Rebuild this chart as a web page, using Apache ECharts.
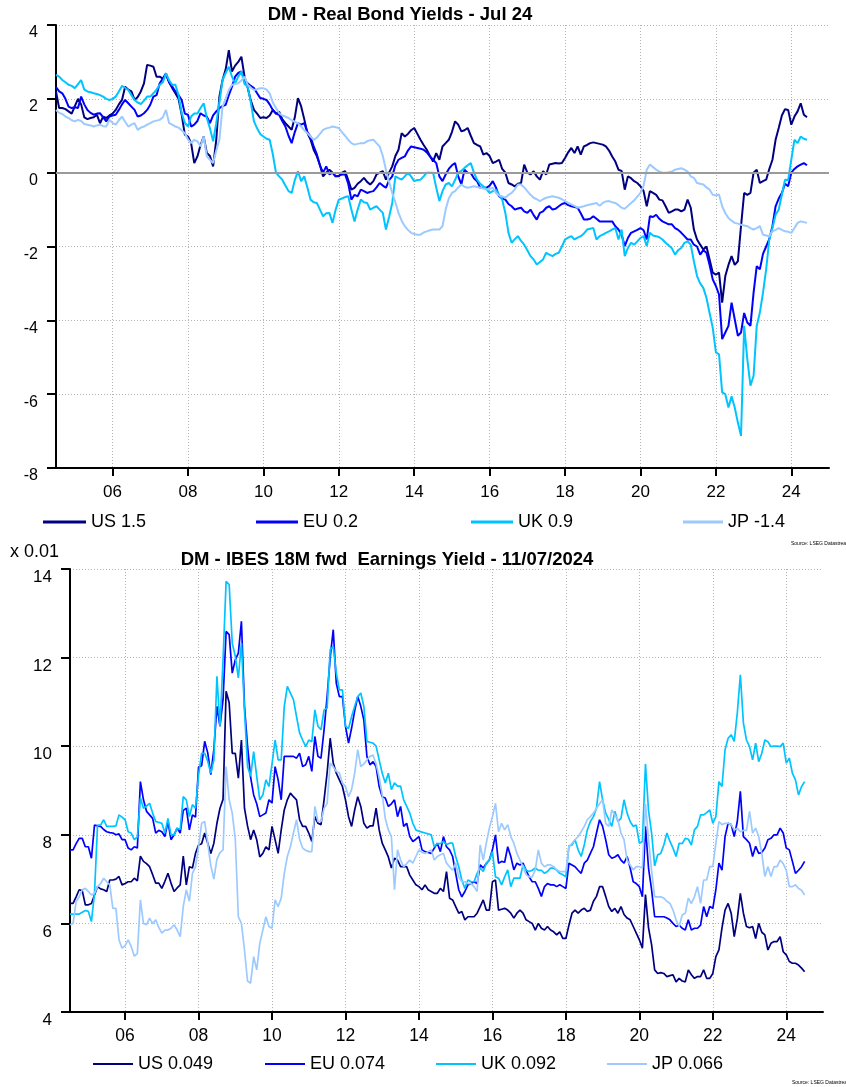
<!DOCTYPE html>
<html><head><meta charset="utf-8">
<script src="https://cdn.jsdelivr.net/npm/echarts@6/dist/echarts.min.js"></script>
<style>html,body{margin:0;padding:0;background:#fff}#c{width:846px;height:1087px}</style>
</head><body><div id="c"></div>
<script>
// ---------- categories (monthly, Jul 2004 .. Jan 2025) ----------
const startYear = 2004, startMonth = 7, nCats = 247;
const months = [];
for (let i = 0; i < nCats; i++) {
  const t = startYear * 12 + startMonth - 1 + i;
  const y = Math.floor(t / 12), m = t % 12 + 1;
  months.push(y + '-' + (m < 10 ? '0' : '') + m);
}
const tickYears = ['2006','2008','2010','2012','2014','2016','2018','2020','2022','2024'];

// ---------- top chart: Real Bond Yields (Jul 2004 .. Jun 2024) ----------
const realNames = ['US 1.5', 'EU 0.2', 'UK 0.9', 'JP -1.4'];
const usReal = [2.2,1.75,1.75,1.72,1.66,1.6,
1.8,2.0,1.85,1.5,1.45,1.48,1.5,1.57,1.34,1.52,1.48,1.55,
1.6,1.7,1.85,1.97,2.33,2.25,2.2,1.97,2.05,2.2,2.42,2.92,
2.9,2.87,2.6,2.6,2.55,2.65,2.45,2.29,2.15,2.0,1.57,1.03,
0.98,0.8,0.26,0.44,0.75,0.98,0.53,0.45,0.17,0.89,2.06,2.51,
2.8,3.32,2.74,2.9,3.0,3.14,2.6,2.3,1.95,1.7,1.6,1.48,
1.5,1.48,1.55,1.7,1.6,1.65,1.45,1.34,1.25,1.16,1.5,2.02,
1.8,1.45,1.07,0.9,0.62,0.45,0.2,-0.1,0.0,0.08,0.0,-0.1,
-0.1,0.0,0.04,-0.2,-0.46,-0.41,-0.3,-0.23,-0.14,-0.25,-0.32,-0.23,
-0.05,0.0,0.04,-0.19,0.0,0.17,0.45,0.62,1.07,0.98,1.05,1.15,
1.21,1.05,0.89,0.75,0.62,0.45,0.3,0.53,0.35,0.71,0.8,0.89,
1.1,1.39,1.3,1.12,1.15,1.21,1.0,0.8,0.75,0.71,0.49,0.53,
0.45,0.26,0.3,0.35,0.1,0.0,-0.28,-0.32,-0.37,-0.3,-0.28,0.22,
0.0,-0.05,0.04,-0.1,-0.19,0.04,-0.05,0.22,0.24,0.26,0.25,0.26,
0.4,0.55,0.67,0.53,0.71,0.49,0.71,0.75,0.8,0.82,0.8,0.78,
0.76,0.71,0.6,0.44,0.3,0.08,0.05,-0.46,-0.1,-0.15,-0.23,-0.28,
-0.37,-0.5,-0.91,-0.5,-0.55,-0.6,-0.73,-0.75,-0.91,-1.09,-1.05,-1.0,
-1.0,-1.05,-1.0,-0.73,-0.95,-1.54,-1.81,-1.95,-2.08,-2.0,-2.35,-2.71,
-2.76,-2.71,-3.52,-2.8,-2.5,-2.26,-2.5,-2.4,-1.45,-0.55,-0.6,-0.55,
0.0,0.08,-0.28,-0.23,-0.19,0.1,0.35,0.89,1.21,1.55,1.72,1.7,
1.3,1.52,1.66,1.88,1.57,1.5];
const euReal = [2.32,2.2,2.15,2.0,1.79,1.75,
1.77,1.75,2.06,1.85,1.7,1.62,1.57,1.6,1.61,1.5,1.39,1.52,
1.55,1.57,1.7,1.85,1.97,1.88,1.79,1.7,1.52,1.55,1.61,1.7,
1.84,2.06,2.1,2.42,2.55,2.69,2.45,2.33,2.2,2.1,1.97,1.6,
1.57,1.25,1.3,1.4,1.61,1.55,1.52,1.34,1.55,1.66,1.75,1.8,
1.84,2.1,2.33,2.6,2.7,2.74,2.5,2.42,2.35,2.29,2.15,2.02,
2.0,1.97,1.85,1.7,1.6,1.57,1.4,1.25,1.0,0.8,1.1,1.34,
1.3,1.34,1.1,0.98,0.71,0.5,0.2,0.0,0.17,-0.05,0.0,-0.1,
-0.08,-0.05,-0.05,-0.3,-0.73,-0.6,-0.64,-0.46,-0.5,-0.55,-0.52,-0.5,
-0.4,-0.28,-0.35,-0.41,-0.2,-0.1,0.2,0.35,0.4,0.44,0.6,0.71,
0.69,0.67,0.65,0.62,0.55,0.44,0.35,0.26,-0.1,-0.23,-0.05,0.1,
0.2,0.26,-0.1,-0.32,0.08,0.0,-0.01,-0.15,-0.23,-0.41,-0.41,-0.41,
-0.35,-0.23,-0.4,-0.64,-0.7,-0.73,-0.85,-0.91,-1.0,-0.97,-0.95,-1.05,
-1.09,-1.0,-1.15,-1.27,-1.09,-1.05,-0.95,-0.91,-1.0,-0.98,-0.91,-0.85,
-0.82,-0.88,-0.91,-0.93,-0.95,-1.1,-1.27,-1.27,-1.25,-1.18,-1.25,-1.32,
-1.32,-1.32,-1.32,-1.32,-1.45,-1.54,-1.68,-1.99,-1.77,-1.63,-1.59,-1.55,
-1.5,-1.56,-1.81,-1.18,-1.2,-1.14,-1.25,-1.32,-1.36,-1.4,-1.4,-1.5,
-1.55,-1.63,-1.72,-1.81,-1.81,-1.95,-2.0,-2.22,-2.1,-2.17,-2.5,-2.89,
-3.07,-3.3,-4.51,-4.33,-4.15,-3.52,-3.97,-4.42,-4.33,-3.8,-4.06,-4.15,
-3.25,-2.53,-2.62,-2.2,-2.0,-1.8,-1.45,-0.91,-0.7,-0.55,-0.3,-0.37,
0.0,0.1,0.17,0.22,0.26,0.2];
const ukReal = [2.65,2.6,2.51,2.45,2.38,2.35,
2.29,2.4,2.51,2.25,2.2,2.18,2.15,2.13,2.1,2.06,2.0,1.97,
2.0,2.06,2.2,2.35,2.3,2.24,2.1,1.97,1.9,1.86,1.95,2.06,
2.06,2.15,2.25,2.38,2.45,2.69,2.5,2.38,2.38,2.1,1.61,1.35,
1.25,1.52,1.6,1.6,1.75,1.88,1.48,1.2,0.85,1.34,1.9,2.51,
2.7,2.87,2.6,2.42,2.6,2.74,2.4,2.33,1.9,1.39,1.2,1.05,
0.98,0.92,0.89,0.5,0.0,-0.1,-0.19,-0.35,-0.5,-0.55,-0.2,0.04,
-0.23,-0.1,-0.4,-0.73,-0.8,-0.82,-1.0,-1.18,-1.1,-1.09,-1.36,-1.0,
-0.73,-0.7,-0.66,-0.64,-1.0,-1.32,-1.0,-0.73,-0.8,-0.82,-1.0,-0.95,
-0.91,-1.0,-1.09,-1.54,-1.2,-0.82,-0.1,-0.15,-0.19,-0.1,0.0,-0.1,
-0.23,-0.2,-0.19,-0.1,0.0,0.0,0.0,-0.4,-0.77,-0.5,-0.32,-0.28,
-0.37,-0.2,0.0,0.05,0.13,0.2,0.26,0.0,-0.19,-0.3,-0.37,-0.45,
-0.55,-0.5,-0.46,-0.6,-0.73,-1.09,-1.63,-1.9,-1.8,-1.72,-1.85,-1.95,
-2.1,-2.26,-2.35,-2.49,-2.42,-2.35,-2.17,-2.22,-2.26,-2.2,-2.17,-2.0,
-1.81,-1.76,-1.72,-1.81,-1.76,-1.72,-1.65,-1.54,-1.52,-1.5,-1.81,-1.72,
-1.68,-1.63,-1.59,-1.54,-1.5,-1.81,-1.54,-2.26,-2.04,-1.9,-1.95,-1.86,
-1.77,-1.72,-1.99,-1.63,-1.7,-1.72,-1.75,-1.81,-1.9,-1.97,-2.05,-2.22,
-2.1,-2.04,-1.9,-1.86,-1.95,-2.4,-2.8,-3.0,-3.12,-3.39,-3.8,-4.2,
-4.87,-4.92,-5.95,-6.0,-6.36,-6.06,-6.36,-6.77,-7.13,-4.15,-5.05,-5.77,
-5.5,-4.15,-3.79,-3.25,-2.62,-1.81,-1.5,-1.14,-1.0,-0.6,-0.19,-0.2,
0.35,0.89,0.8,0.98,0.92,0.89];
const jpReal = [1.7,1.62,1.59,1.52,1.48,1.42,
1.39,1.43,1.4,1.32,1.3,1.28,1.25,1.28,1.3,1.26,1.25,1.43,
1.35,1.3,1.42,1.52,1.38,1.25,1.3,1.34,1.16,1.22,1.25,1.3,
1.34,1.39,1.41,1.43,1.5,1.7,1.34,1.3,1.25,1.22,1.15,1.07,
0.9,0.8,0.89,0.85,0.71,0.98,0.44,0.35,0.26,0.6,0.89,1.79,
2.0,2.24,2.38,2.4,2.42,2.5,2.6,2.38,2.3,2.24,2.26,2.29,
2.29,2.25,2.15,1.9,1.75,1.61,1.55,1.52,1.48,1.42,1.38,1.34,
1.25,1.15,1.07,0.98,0.89,0.95,1.05,1.16,1.2,1.22,1.25,1.23,
1.21,1.1,1.0,0.89,0.8,0.76,0.78,0.8,0.8,0.85,0.88,0.89,
0.8,0.71,0.45,0.08,-0.25,-0.55,-0.8,-1.09,-1.3,-1.45,-1.55,-1.63,
-1.66,-1.68,-1.68,-1.62,-1.59,-1.56,-1.54,-1.54,-1.54,-1.45,-1.0,-0.7,
-0.55,-0.5,-0.4,-0.32,-0.38,-0.41,-0.39,-0.37,-0.39,-0.41,-0.43,-0.46,
-0.44,-0.41,-0.55,-0.62,-0.64,-0.68,-0.6,-0.55,-0.45,-0.32,-0.32,-0.4,
-0.5,-0.6,-0.68,-0.72,-0.77,-0.72,-0.68,-0.66,-0.64,-0.66,-0.68,-0.72,
-0.77,-0.82,-0.86,-0.9,-0.95,-0.93,-0.91,-0.88,-0.86,-0.84,-0.82,-0.9,
-0.82,-0.78,-0.77,-0.8,-0.82,-0.88,-0.95,-0.98,-0.9,-0.82,-0.75,-0.65,
-0.55,-0.35,0.08,0.22,0.15,0.08,0.03,0.0,0.0,0.01,0.03,0.08,
0.1,0.12,0.08,0.03,-0.1,-0.14,-0.28,-0.3,-0.32,-0.4,-0.46,-0.6,
-0.62,-0.59,-0.91,-1.1,-1.23,-1.3,-1.36,-1.38,-1.41,-1.43,-1.45,-1.5,
-1.54,-1.5,-1.45,-1.68,-1.7,-1.72,-1.59,-1.55,-1.5,-1.55,-1.59,-1.6,
-1.63,-1.5,-1.36,-1.32,-1.34,-1.36];

// ---------- bottom chart: IBES 18M fwd Earnings Yield, x 0.01 (Jul 2004 .. Jul 2024) ----------
const eyNames = ['US 0.049', 'EU 0.074', 'UK 0.092', 'JP 0.066'];
const usEY = [6.45,6.45,6.6,6.76,6.74,6.42,
6.42,6.45,6.64,6.83,6.78,6.76,6.72,6.98,6.98,7.0,7.06,6.87,
6.9,6.94,6.94,7.02,6.96,7.52,7.4,7.35,7.28,7.1,6.91,6.91,
6.79,6.95,7.13,6.91,6.72,6.8,6.87,7.52,6.87,7.28,7.25,7.58,
7.77,7.8,8.04,7.81,7.58,7.81,8.26,8.6,8.8,11.24,10.98,9.84,
9.84,9.28,10.14,8.6,8.2,7.89,8.11,7.89,7.5,7.58,7.73,7.66,
8.19,7.89,7.58,8.11,8.56,8.79,8.94,8.86,8.79,8.34,8.19,8.19,
8.04,7.85,8.41,8.26,8.23,8.79,9.4,10.18,9.62,9.39,9.24,9.09,
8.79,8.41,8.19,8.56,8.86,8.64,8.26,8.15,8.2,8.2,8.6,8.11,
7.81,7.66,7.5,7.25,7.47,7.43,7.28,7.28,7.28,7.09,6.98,6.87,
6.83,6.76,6.87,6.76,6.72,6.68,6.68,6.79,6.72,7.17,6.57,6.53,
6.38,6.23,6.27,6.08,6.15,6.15,6.15,6.23,6.38,6.53,6.3,6.3,
6.94,6.98,6.3,6.32,6.34,6.3,6.23,6.12,6.23,6.3,6.23,6.08,
6.04,6.0,5.85,6.0,5.89,5.85,5.93,5.85,5.81,5.74,5.81,5.66,
5.66,5.96,6.23,6.3,6.23,6.3,6.34,6.27,6.3,6.5,6.61,6.83,
6.83,6.61,6.38,6.27,6.34,6.23,6.38,6.2,6.12,6.08,5.93,5.78,
5.63,5.44,6.65,5.9,5.52,4.95,4.87,4.89,4.87,4.8,4.82,4.84,
4.68,4.76,4.7,4.68,4.95,4.84,4.76,4.8,4.8,4.95,4.76,4.76,
4.87,5.25,5.4,5.9,6.3,6.45,6.23,5.7,6.1,6.68,6.23,5.93,
5.9,5.93,5.66,6.0,5.8,5.74,5.4,5.55,5.59,5.59,5.7,5.36,
5.29,5.14,5.1,5.1,5.06,4.99,4.91];
const euEY = [7.66,7.66,7.8,7.92,7.92,7.73,
7.73,7.47,8.22,8.2,8.19,8.12,8.07,8.05,8.04,8.0,8.02,7.89,
7.89,7.7,7.66,7.73,7.7,9.2,8.79,8.53,8.45,8.37,8.04,8.1,
8.07,7.96,8.3,7.89,8.0,8.15,8.04,8.55,8.6,8.11,8.45,8.4,
9.53,9.56,10.11,9.85,9.36,9.93,10.9,10.45,11.05,12.59,12.52,11.65,
11.95,12.1,12.82,10.9,10.0,9.3,8.9,8.7,8.41,8.45,8.49,8.79,
8.72,9.54,9.24,8.79,9.77,9.77,9.77,9.77,9.73,9.84,9.54,9.58,
9.77,9.43,10.22,9.77,9.73,10.37,11.12,12.0,12.63,11.42,11.12,11.12,
10.45,10.07,10.41,10.8,11.12,10.9,10.59,9.77,9.58,9.65,9.54,9.09,
8.86,8.83,8.64,8.7,8.79,8.41,8.64,8.19,8.26,7.96,7.85,7.9,
7.96,7.66,7.62,7.6,7.58,7.7,7.81,7.62,7.96,7.73,7.66,7.51,
7.13,6.76,6.6,6.72,6.87,6.9,6.94,6.9,7.32,7.25,7.35,7.43,
7.66,8.0,7.36,7.4,7.38,7.73,7.51,7.21,7.36,7.32,7.36,7.2,
7.05,6.94,6.94,6.79,6.61,6.83,6.9,6.87,6.87,6.83,6.87,6.83,
6.79,7.36,7.32,7.28,7.2,7.13,7.36,7.43,7.58,7.73,8.04,8.34,
8.19,7.89,7.55,7.47,7.5,7.55,7.43,7.36,7.51,7.25,6.94,6.9,
6.83,6.6,8.19,7.25,6.76,6.15,6.15,6.15,6.15,6.12,6.08,6.0,
5.93,5.96,5.89,5.85,6.08,5.85,5.89,5.89,5.96,6.38,6.15,6.38,
6.34,6.76,7.36,7.2,7.96,8.26,8.23,7.96,8.3,8.98,7.96,7.89,
7.81,7.51,7.74,7.58,7.6,7.7,7.89,7.92,8.0,8.0,8.15,8.04,
7.7,7.66,7.4,7.13,7.2,7.28,7.4];
const ukEY = [6.21,6.21,6.21,6.21,6.25,6.29,
6.27,6.04,6.68,8.22,8.22,8.34,8.19,8.19,8.19,8.2,8.45,8.4,
8.34,8.07,8.04,7.89,7.95,8.83,8.6,8.65,8.71,8.49,8.3,8.28,
8.26,8.04,8.37,8.0,8.0,8.15,8.12,8.86,8.79,8.41,8.68,8.6,
9.35,9.84,9.84,9.66,9.39,9.69,11.58,10.45,11.95,13.72,13.65,12.33,
12.03,11.54,12.33,10.82,9.54,9.32,9.88,9.32,8.79,8.9,9.24,9.09,
9.6,10.14,9.69,9.69,10.9,11.35,11.2,11.05,10.67,10.3,10.14,9.99,
10.14,10.1,10.82,10.45,10.37,10.82,10.86,12.18,12.25,11.65,11.27,11.27,
10.45,10.4,10.67,10.9,11.12,11.2,10.9,10.11,10.09,10.07,10.0,9.69,
9.39,9.17,9.39,9.02,9.17,9.1,9.1,8.79,8.64,8.49,8.26,8.11,
8.08,8.06,8.04,8.02,8.0,7.73,7.8,7.8,7.85,7.78,7.81,7.81,
7.51,7.28,6.98,6.79,6.98,6.94,6.94,7.13,7.25,7.17,7.36,7.43,
7.62,7.05,7.02,6.87,7.05,7.21,6.83,7.02,7.02,7.02,7.32,7.2,
7.17,7.2,7.25,7.2,7.2,7.13,7.17,7.25,7.25,7.2,7.13,7.1,
7.05,7.75,7.77,7.89,7.66,7.51,7.77,8.11,8.3,8.41,8.6,9.2,
8.79,8.49,8.35,8.19,8.53,8.3,8.37,8.79,8.49,8.3,8.19,8.22,
7.81,7.85,9.6,8.55,8.04,7.3,7.55,7.58,7.77,8.04,7.85,7.7,
7.51,7.81,7.8,7.92,7.9,7.77,8.11,8.19,8.45,8.45,8.5,8.56,
8.26,8.41,9.2,9.09,9.92,10.18,10.26,10.11,10.75,11.61,10.52,10.14,
9.99,9.69,10.07,9.65,9.84,10.14,10.1,9.99,10.0,10.0,9.99,10.07,
9.62,9.73,9.39,9.24,8.9,9.09,9.2];
const jpEY = [5.97,6.0,6.49,6.6,6.76,6.79,
6.72,6.64,6.68,6.83,6.9,7.02,6.94,6.87,6.34,6.34,5.63,5.44,
5.5,5.63,5.48,5.26,5.32,6.53,6.0,5.97,6.12,5.99,6.08,5.91,
5.78,5.85,5.85,5.89,5.97,5.85,5.7,6.38,6.76,6.5,7.13,7.28,
7.73,8.26,8.3,7.81,7.3,7.0,7.45,7.6,7.66,9.54,8.79,8.49,
7.9,6.15,6.0,5.4,4.7,4.65,5.25,4.95,5.55,5.85,6.15,5.93,
5.89,6.53,6.38,6.57,7.13,7.51,7.73,8.04,8.34,7.9,7.7,7.65,
7.62,7.62,8.64,8.3,8.3,8.6,8.71,9.62,9.54,9.43,9.4,9.17,
9.09,8.86,9.02,9.39,9.92,9.54,9.6,9.69,9.77,9.8,9.6,9.3,
8.9,8.37,8.11,7.96,6.76,7.66,7.43,7.28,7.35,7.43,7.36,7.51,
7.66,7.6,7.58,7.62,7.66,7.43,7.51,7.55,7.58,7.36,7.28,7.2,
7.36,7.05,6.94,6.94,6.9,6.9,6.83,6.72,7.77,7.43,7.81,8.15,
8.41,8.71,8.07,8.26,8.11,8.23,7.96,7.81,7.58,7.43,7.28,7.1,
7.05,7.05,7.21,7.66,7.36,7.28,7.32,7.32,7.28,7.21,7.17,7.17,
7.17,7.73,7.81,7.89,7.96,8.07,8.19,8.34,8.41,8.49,8.6,8.7,
8.79,8.26,8.19,8.56,8.45,8.34,8.04,7.89,7.43,7.32,7.21,7.28,
7.28,7.25,8.7,7.89,7.2,6.6,6.6,6.6,6.57,6.5,6.45,6.3,
6.08,5.93,6.19,6.23,6.57,6.45,6.6,6.83,6.45,6.98,6.98,7.28,
7.28,7.81,8.3,8.23,8.26,8.26,8.23,8.11,8.15,8.07,8.1,8.1,
8.53,8.04,8.15,7.96,7.58,7.06,7.28,7.06,7.28,7.28,7.43,7.35,
7.2,6.83,6.83,6.87,6.79,6.75,6.64];

// ---------- styling ----------
const colors = ['#000080', '#0000ff', '#00c4ff', '#9ccaff'];
const FF = '"Liberation Sans", Arial, sans-serif';
const gridDot = { color: '#b4b4b4', width: 1, type: [1, 2] };
const isTick = (idx, val) => val.slice(5) === '01' && tickYears.indexOf(val.slice(0, 4)) >= 0;

function xAxis(gi, fs, margin) {
  return {
    type: 'category', gridIndex: gi, data: months, boundaryGap: false,
    axisLine: { onZero: false, lineStyle: { color: '#000', width: 2 } },
    axisTick: { show: true, interval: isTick, length: 8, lineStyle: { color: '#000', width: 2 } },
    axisLabel: { interval: isTick, formatter: v => v.slice(2, 4), fontSize: fs, margin: margin, color: '#000', fontFamily: FF },
    splitLine: { show: true, interval: isTick, lineStyle: gridDot }
  };
}
function yAxis(gi, min, max, fs) {
  return {
    type: 'value', gridIndex: gi, min: min, max: max, interval: 2,
    axisLine: { show: true, lineStyle: { color: '#000', width: 2 } },
    axisTick: { show: true, length: 9, lineStyle: { color: '#000', width: 2 } },
    axisLabel: { fontSize: fs, margin: 18, verticalAlign: 'top', color: '#000', fontFamily: FF },
    splitLine: { show: true, lineStyle: gridDot }
  };
}
function line(name, data, i, gi, w) {
  return {
    type: 'line', name: name, data: data, xAxisIndex: gi, yAxisIndex: gi,
    showSymbol: false, symbol: 'none', color: colors[i],
    lineStyle: { width: w, color: colors[i] }, itemStyle: { color: colors[i] }
  };
}
function legend(name, left, top, w, h) {
  return {
    data: [name], left: left, top: top, padding: 0, itemWidth: w, itemHeight: h,
    icon: 'rect', selectedMode: false,
    textStyle: { fontSize: 18, color: '#000', fontFamily: FF, lineHeight: 18 }
  };
}

const topSeries = [usReal, euReal, ukReal, jpReal].map((d, i) => line(realNames[i], d, i, 0, 2));
topSeries[0].markLine = {
  silent: true, symbol: 'none', label: { show: false }, animation: false,
  lineStyle: { color: '#9a9a9a', width: 2, type: 'solid' }, data: [{ yAxis: 0 }]
};
const botSeries = [usEY, euEY, ukEY, jpEY].map((d, i) => line(eyNames[i], d, i, 1, 1.7));

const chart = echarts.init(document.getElementById('c'), null, { renderer: 'canvas' });
chart.setOption({
  animation: false,
  backgroundColor: '#fff',
  grid: [
    { left: 56, top: 25, width: 773, height: 443 },
    { left: 70, top: 569, width: 753, height: 443 }
  ],
  xAxis: [xAxis(0, 17, 16), xAxis(1, 17.5, 15)],
  yAxis: [yAxis(0, -8, 4, 16), yAxis(1, 4, 14, 17)],
  legend: [
    legend(realNames[0], 43, 513, 43, 3), legend(realNames[1], 256, 513, 42, 3),
    legend(realNames[2], 471, 513, 42, 3), legend(realNames[3], 683, 513, 40, 3),
    legend(eyNames[0], 93, 1055, 40, 2), legend(eyNames[1], 265, 1055, 40, 2),
    legend(eyNames[2], 436, 1055, 40, 2), legend(eyNames[3], 607, 1055, 40, 2)
  ],
  graphic: [
    { type: 'text', x: 400, y: 15, style: { text: 'DM - Real Bond Yields - Jul 24', fill: '#000', font: 'bold 18.5px ' + FF, textAlign: 'center', textVerticalAlign: 'middle', verticalAlign: 'middle' } },
    { type: 'text', x: 387, y: 560, style: { text: 'DM - IBES 18M fwd  Earnings Yield - 11/07/2024', fill: '#000', font: 'bold 18.5px ' + FF, textAlign: 'center', textVerticalAlign: 'middle', verticalAlign: 'middle' } },
    { type: 'text', x: 10, y: 552, style: { text: 'x 0.01', fill: '#000', font: '18px ' + FF, textAlign: 'left', textVerticalAlign: 'middle', verticalAlign: 'middle' } },
    { type: 'text', x: 791, y: 544, style: { text: 'Source: LSEG Datastream', fill: '#000', font: '5px ' + FF, textAlign: 'left', textVerticalAlign: 'middle', verticalAlign: 'middle' } },
    { type: 'text', x: 792, y: 1083, style: { text: 'Source: LSEG Datastream', fill: '#000', font: '5px ' + FF, textAlign: 'left', textVerticalAlign: 'middle', verticalAlign: 'middle' } }
  ],
  series: topSeries.concat(botSeries)
});
</script>
</body></html>
